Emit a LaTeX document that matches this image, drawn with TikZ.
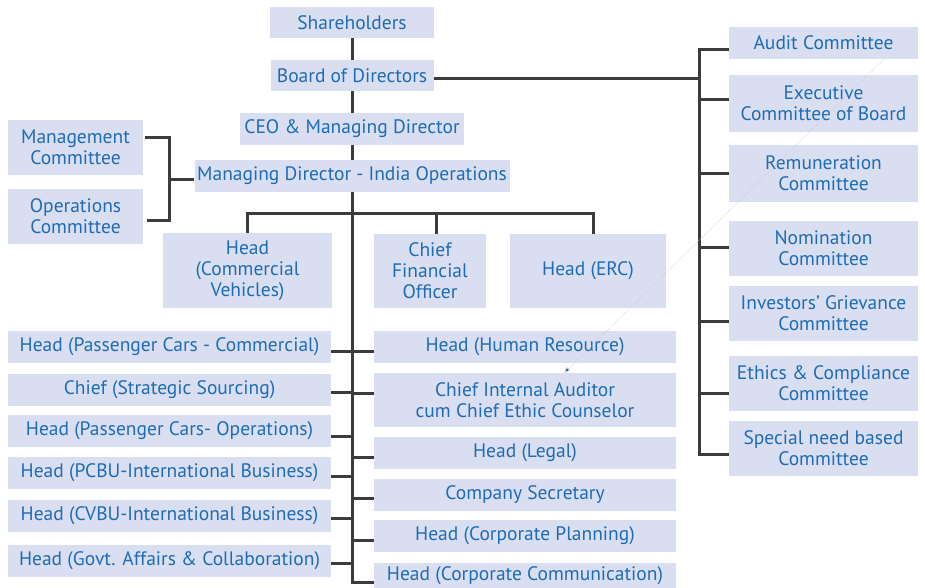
\documentclass[tikz,border=0pt]{standalone}
\usepackage{fontspec}
\setmainfont{PT Sans}
\usetikzlibrary{arrows.meta}

\definecolor{boxfill}{RGB}{217,222,240}
\definecolor{txtblue}{RGB}{30,108,182}
\definecolor{linkgray}{RGB}{60,60,60}

\tikzset{
  box/.style 2 args={fill=boxfill, text=txtblue, inner sep=0pt,
    minimum width=#1pt, minimum height=#2pt, align=center,
    font=\fontsize{19.5pt}{21pt}\selectfont},
  link/.style={draw=linkgray, line width=3pt},
  stray/.style={draw=gray!40, densely dotted, line width=0.6pt,
    -{Latex[length=6pt,width=5pt,fill=txtblue!70!black]}},
}

\begin{document}
\begin{tikzpicture}[x=1pt, y=-1pt]
  \useasboundingbox (0,0) rectangle (925,588);

  % main line
  \node[box={164}{31}] (sh) at (352,22.5) {Shareholders};
  \node[box={163}{31}] (bod) at (352,75.5) {Board of Directors};
  \node[box={224}{32}] (ceo) at (352,129) {CEO \& Managing Director};
  \node[box={315}{32}] (mdi) at (352,176) {Managing Director - India Operations};

  % committees under the MD
  \node[box={135}{55}] (mgmt) at (75.5,147.5) {Management\\Committee};
  \node[box={135}{55}] (ops) at (75.5,216.5) {Operations\\Committee};

  % second tier
  \node[box={169}{75}] (hcv) at (247.5,270.5) {Head\\(Commercial\\Vehicles)};
  \node[box={112}{74}] (cfo) at (430,271) {Chief\\Financial\\Officer};
  \node[box={156}{74}] (erc) at (588,271) {Head (ERC)};

  % left column
  \node[box={323}{32}] (pcc) at (169.5,347) {Head (Passenger Cars - Commercial)};
  \node[box={323}{32}] (css) at (169.5,390) {Chief (Strategic Sourcing)};
  \node[box={323}{32}] (pco) at (169.5,431) {Head (Passenger Cars- Operations)};
  \node[box={323}{32}] (pcbu) at (169.5,473) {Head (PCBU-International Business)};
  \node[box={323}{32}] (cvbu) at (169.5,516) {Head (CVBU-International Business)};
  \node[box={323}{32}] (govt) at (169.5,561) {Head (Govt. Affairs \& Collaboration)};

  % right column
  \node[box={302}{32}] (hr) at (525,347) {Head (Human Resource)};
  \node[box={302}{54}] (cia) at (525,400) {Chief Internal Auditor\\cum Chief Ethic Counselor};
  \node[box={302}{32}] (legal) at (525,453) {Head (Legal)};
  \node[box={302}{32}] (cs) at (525,495) {Company Secretary};
  \node[box={302}{32}] (cp) at (525,536) {Head (Corporate Planning)};
  \node[box={302}{25}] (cc) at (525,575.5) {Head (Corporate Communication)};

  % board committees
  \node[box={189}{32}] (aud) at (823.5,43) {Audit Committee};
  \node[box={189}{57}] (exe) at (823.5,103.5) {Executive\\Committee of Board};
  \node[box={189}{57}] (rem) at (823.5,173.5) {Remuneration\\Committee};
  \node[box={189}{55}] (nom) at (823.5,248.5) {Nomination\\Committee};
  \node[box={189}{55}] (inv) at (823.5,313.5) {Investors' Grievance\\Committee};
  \node[box={189}{55}] (eth) at (823.5,383.5) {Ethics \& Compliance\\Committee};
  \node[box={189}{55}] (spe) at (823.5,448.5) {Special need based\\Committee};

  \coordinate (bar) at (352,213);
  \coordinate (tend) at (352,582);
  \coordinate (bk) at (169,179);
  \coordinate (ctop) at (699,50);
  \coordinate (cbot) at (699,454);

  % links
  \draw[link] (sh) -- (bod);
  \draw[link] (bod) -- (ceo);
  \draw[link] (ceo) -- (mdi);
  \draw[link] (mdi.south) -- (tend) -- ([yshift=-6.5pt]cc.west);
  \draw[link] ([xshift=2pt,yshift=9.5pt]mgmt.east) -| (bk)
    |- ([xshift=4pt,yshift=-3.5pt]ops.east);
  \draw[link] (bk) -- (mdi.west |- bk);
  \draw[link] (hcv.north) -- (hcv.north |- bar) -- ([xshift=5pt]erc.north |- bar)
    -- ([xshift=5pt]erc.north);
  \draw[link] ([xshift=6pt]cfo.north |- bar) -- ([xshift=6pt]cfo.north);
  \foreach \n/\dy in {pcc/4,css/2,pco/5,pcbu/3,cvbu/2,govt/2}
    \draw[link] ([yshift=-\dy pt]\n.east) -- +(21,0);
  \foreach \n/\dy in {hr/4,cia/-7,legal/4,cs/3,cp/4}
    \draw[link] ([yshift=-\dy pt]\n.west) -- +(-22,0);
  \draw[link] ([yshift=-3.5pt]bod.east) -- ++(264,0);
  \draw[link] ([yshift=-7pt]aud.west) -- (ctop) -- (cbot)
    -- ([yshift=-5.5pt]spe.west);
  \foreach \n/\dy in {exe/-3.5,rem/0,nom/-1.5,inv/7.5,eth/9.5}
    \draw[link] ([yshift=-\dy pt]\n.west) -- +(-30,0);

  % faint pointer
  \coordinate (s1) at (884,59);
  \coordinate (s2) at (564,373);
  \draw[stray] (s1) -- (s2);
\end{tikzpicture}
\end{document}
